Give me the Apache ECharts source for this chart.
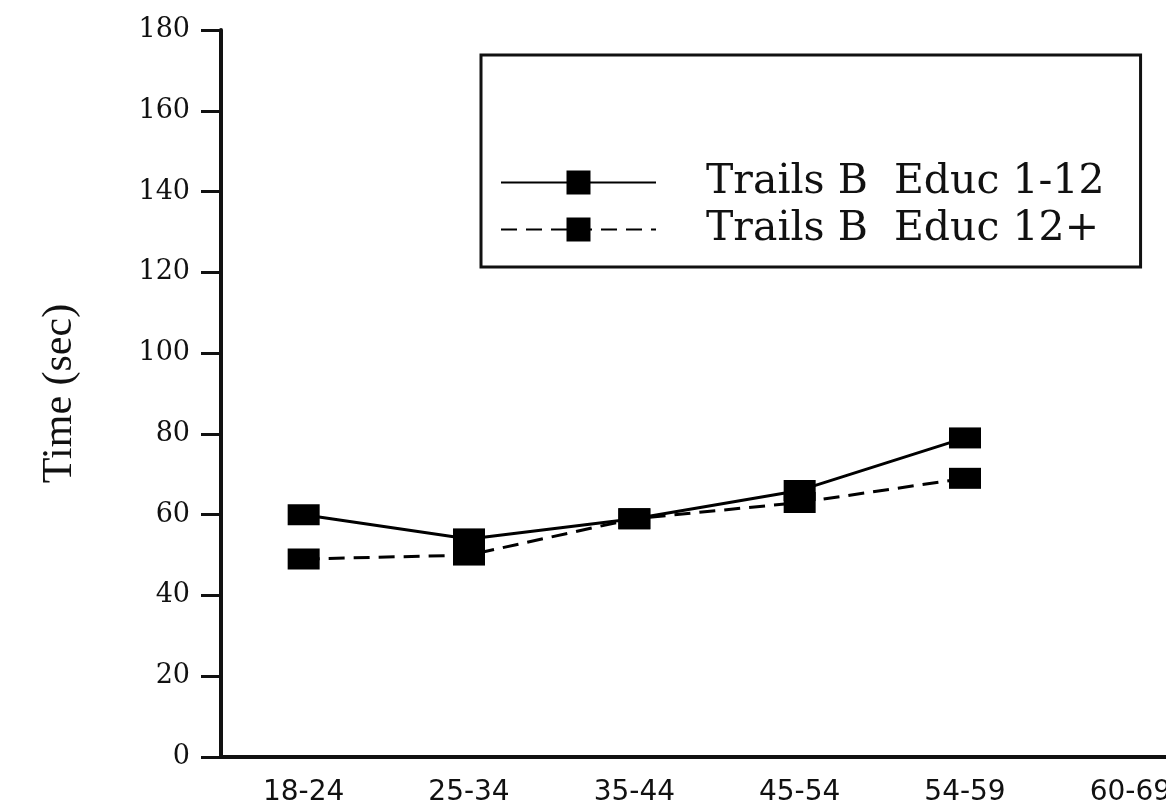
<!DOCTYPE html>
<html>
<head>
<meta charset="utf-8">
<script src="https://cdn.jsdelivr.net/npm/echarts@6/dist/echarts.min.js"></script>
<style>
html,body{margin:0;padding:0;background:#fff;overflow:hidden;width:1166px;height:807px;}
#chart{width:1220px;height:807px;}
</style>
</head>
<body>
<div id="chart"></div>
<script>
const categories = ['18-24', '25-34', '35-44', '45-54', '54-59', '60-69'];
const educLow = [60, 54, 59, 66, 79, null];
const educHigh = [49, 50, 59, 63, 69, null];
const seriesNames = ['Trails B  Educ 1-12', 'Trails B  Educ 12+'];
const yTicks = { min: 0, max: 180, interval: 20 };

const chart = echarts.init(document.getElementById('chart'));
const lineCommon = {
  type: 'line',
  symbol: 'rect',
  symbolSize: [32, 21],
  itemStyle: { color: '#000' },
  connectNulls: false
};
chart.setOption({
  backgroundColor: '#fff',
  animation: false,
  grid: { left: 221, top: 30, right: 7, bottom: 48, containLabel: false },
  legend: {
    orient: 'vertical',
    left: 481,
    top: 55,
    itemWidth: 155,
    itemHeight: 30,
    itemGap: 6,
    padding: [107, 36, 17, 19],
    borderColor: '#111',
    borderWidth: 3,
    textStyle: { fontFamily: 'DejaVu Serif', fontSize: 41, color: '#111', padding: [0, 0, 0, 45] },
    data: seriesNames
  },
  xAxis: {
    type: 'category',
    data: categories,
    boundaryGap: true,
    axisLine: { lineStyle: { color: '#111', width: 4 } },
    axisTick: { alignWithLabel: true, length: 9, lineStyle: { color: '#111', width: 3 } },
    axisLabel: { fontFamily: 'DejaVu Sans', fontSize: 28, color: '#111', margin: 22 }
  },
  yAxis: {
    type: 'value',
    min: yTicks.min,
    max: yTicks.max,
    interval: yTicks.interval,
    name: 'Time (sec)',
    nameLocation: 'middle',
    nameRotate: 90,
    nameGap: 140,
    nameTextStyle: { fontFamily: 'Liberation Serif', fontSize: 42, color: '#111' },
    splitLine: { show: false },
    axisLine: { show: true, lineStyle: { color: '#111', width: 4 } },
    axisTick: { show: true, length: 20, lineStyle: { color: '#111', width: 3 } },
    axisLabel: { fontFamily: 'DejaVu Serif', fontSize: 27, color: '#111', margin: 31 }
  },
  series: [
    Object.assign({}, lineCommon, {
      name: seriesNames[0],
      data: educLow,
      lineStyle: { color: '#000', width: 3, type: 'solid' }
    }),
    Object.assign({}, lineCommon, {
      name: seriesNames[1],
      data: educHigh,
      lineStyle: { color: '#000', width: 3, type: [16, 9] }
    })
  ]
});
</script>
</body>
</html>
